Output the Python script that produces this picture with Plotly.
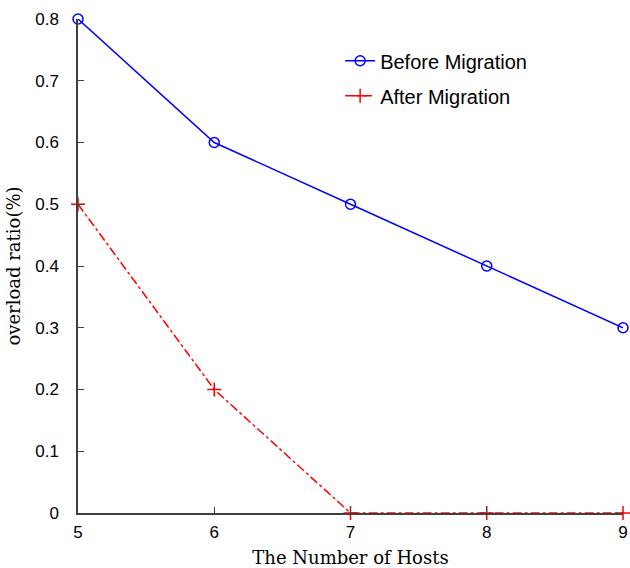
import plotly.graph_objects as go

hosts = [5, 6, 7, 8, 9]
before = [0.8, 0.6, 0.5, 0.4, 0.3]
after = [0.5, 0.2, 0.0, 0.0, 0.0]
yticks = [0, 0.1, 0.2, 0.3, 0.4, 0.5, 0.6, 0.7, 0.8]
ytick_text = ["0", "0.1", "0.2", "0.3", "0.4", "0.5", "0.6", "0.7", "0.8"]

fig = go.Figure()
fig.add_trace(go.Scatter(
    x=hosts, y=before, name="Before Migration", mode="lines+markers", legendgroup="b",
    line=dict(color="#0000ff", width=1.5),
    marker=dict(symbol="circle-open", size=10, color="#0000ff", line=dict(width=1.5)),
    cliponaxis=False))
fig.add_trace(go.Scatter(
    x=hosts, y=after, name="After Migration", mode="lines+markers", legendgroup="a",
    line=dict(color="#ff0000", width=1.5, dash="dashdot"),
    marker=dict(symbol="cross-thin-open", size=10, color="#ff0000", line=dict(width=1.5, color="#ff0000")),
    cliponaxis=False))

axis_common = dict(showgrid=False, zeroline=False, showline=True, linecolor="#404040",
                   linewidth=1.5, ticks="inside", ticklen=6, tickcolor="#404040", tickwidth=1,
                   automargin=False,
                   tickfont=dict(family="Liberation Sans, Arial, sans-serif", size=17, color="#000"))

fig.update_xaxes(range=[5, 9], tickvals=hosts, ticktext=[str(h) for h in hosts],
                 ticklabelstandoff=3,
                 title=dict(text="The Number of Hosts", font=dict(family="DejaVu Serif, serif", size=18, color="#000"), standoff=19),
                 **axis_common)
fig.update_yaxes(range=[0, 0.8], tickvals=yticks, ticktext=ytick_text,
                 ticklabelstandoff=14,
                 title=dict(text="overload ratio(%)", font=dict(family="DejaVu Serif, serif", size=18, color="#000"), standoff=10),
                 **axis_common)

fig.update_layout(
    width=630, height=568,
    margin=dict(l=78, r=7, t=19, b=55),
    plot_bgcolor="white", paper_bgcolor="white",
    showlegend=True,
    legend=dict(x=0.481, y=0.955, xanchor="left", yanchor="top",
                font=dict(family="Liberation Sans, Arial, sans-serif", size=20, color="#000"),
                bgcolor="rgba(0,0,0,0)", tracegroupgap=6),
)

fig.write_html("out.html")
